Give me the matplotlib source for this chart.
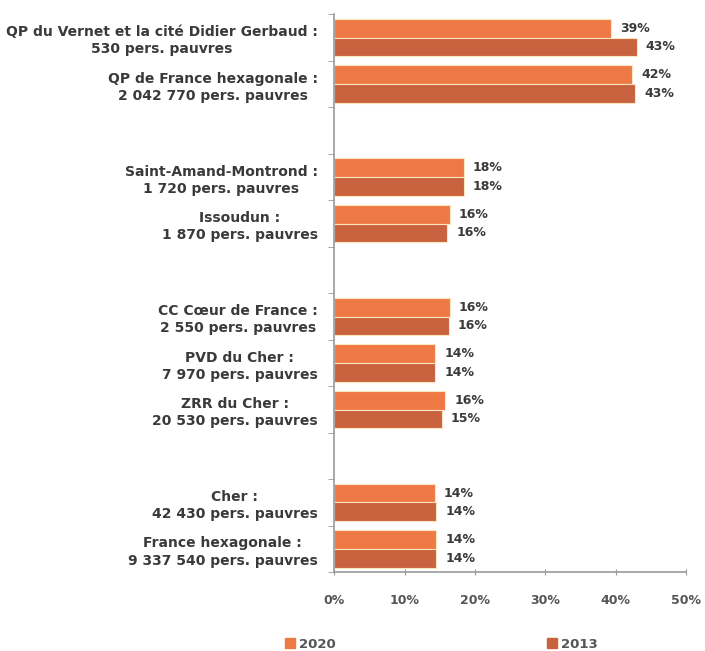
import numpy as np
import matplotlib
matplotlib.use('Agg')
import matplotlib.pyplot as plt
from matplotlib.patches import Patch

categories = [
    "QP du Vernet et la cité Didier Gerbaud :\n530 pers. pauvres",
    "QP de France hexagonale :\n2 042 770 pers. pauvres",
    "Saint-Amand-Montrond :\n1 720 pers. pauvres",
    "Issoudun :\n1 870 pers. pauvres",
    "CC Cœur de France :\n2 550 pers. pauvres",
    "PVD du Cher :\n7 970 pers. pauvres",
    "ZRR du Cher :\n20 530 pers. pauvres",
    "Cher :\n42 430 pers. pauvres",
    "France hexagonale :\n9 337 540 pers. pauvres",
]
# slot of each category (empty slots separate the groups)
slots = [0, 1, 3, 4, 6, 7, 8, 10, 11]
vals_2020 = [39.3, 42.4, 18.4, 16.4, 16.4, 14.4, 15.8, 14.3, 14.5]
vals_2013 = [43.0, 42.8, 18.4, 16.1, 16.3, 14.4, 15.3, 14.5, 14.5]
series_names = ["2020", "2013"]
xticks = [0, 10, 20, 30, 40, 50]

c2020 = '#ef7944'
c2013 = '#c9623f'
edge = '#fbe6bf'
txt = '#3a3a3a'

fig = plt.figure(figsize=(7.05, 6.51), dpi=100)
ax = fig.add_axes([0.474, 0.121, 0.499, 0.857])

y = np.array(slots, dtype=float)
h = 0.4
ax.barh(y - h / 2, vals_2020, height=h, color=c2020, edgecolor=edge, linewidth=0.8)
ax.barh(y + h / 2, vals_2013, height=h, color=c2013, edgecolor=edge, linewidth=0.8)

for yy, v in zip(y, vals_2020):
    ax.text(v + 1.3, yy - h / 2, f"{v:.0f}%", va='center', ha='left',
            fontsize=9, fontweight='bold', color=txt)
for yy, v in zip(y, vals_2013):
    ax.text(v + 1.3, yy + h / 2, f"{v:.0f}%", va='center', ha='left',
            fontsize=9, fontweight='bold', color=txt)

ax.set_xlim(0, 50)
ax.set_ylim(11.5, -0.5)
ax.set_xticks(xticks)
ax.set_xticklabels([f"{t}%" for t in xticks], fontsize=9, fontweight='bold', color='#555555')
ax.set_yticks(y)
ax.set_yticklabels(categories, fontsize=10, fontweight='bold', color=txt,
                   multialignment='center', linespacing=1.3)
ax.set_yticks(np.arange(-0.5, 12, 1.0), minor=True)
ax.tick_params(axis='y', which='major', length=0, pad=12)
ax.tick_params(axis='y', which='minor', length=4, color='#999999', direction='out')
ax.tick_params(axis='x', length=4, color='#999999', direction='inout', pad=14)

for s in ['top', 'right']:
    ax.spines[s].set_visible(False)
for s in ['left', 'bottom']:
    ax.spines[s].set_color('#999999')
    ax.spines[s].set_linewidth(1.2)

handles = [Patch(color=c2020, label=series_names[0]), Patch(color=c2013, label=series_names[1])]
leg = fig.legend(handles=handles, loc='lower center', bbox_to_anchor=(0.626, -0.018), ncol=2,
                 frameon=False, columnspacing=16, handlelength=0.8, handleheight=0.8,
                 handletextpad=0.3, prop={'size': 9.5, 'weight': 'bold'})
for t in leg.get_texts():
    t.set_color('#555555')

fig.savefig('out.png', dpi=100)
